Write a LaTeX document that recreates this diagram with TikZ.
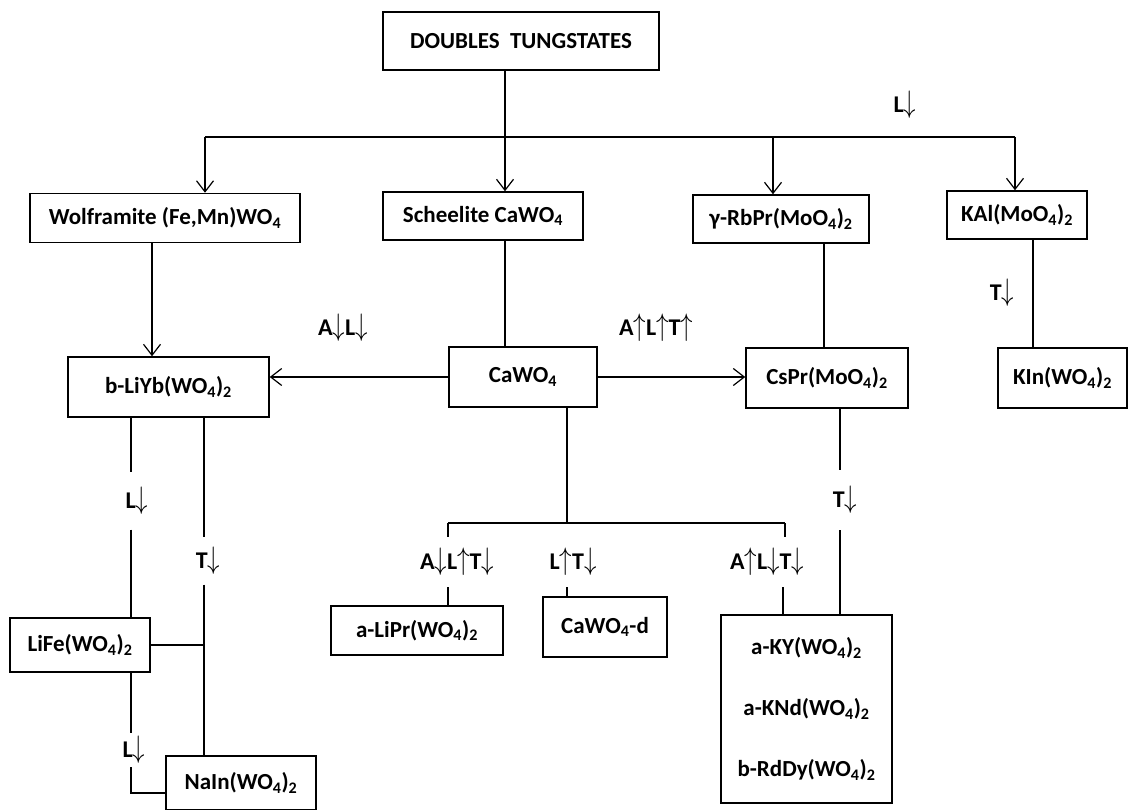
\documentclass[tikz,border=0pt]{standalone}
\usepackage{fontspec}
\setmainfont{Carlito}
\usetikzlibrary{arrows.meta}
\newcommand\sbs[1]{\textsubscript{#1}}
\newcommand\arrdn{\raisebox{-0.5pt}{\scalebox{1}[1.25]{$\downarrow$}}}
\newcommand\arrup{\raisebox{-0.5pt}{\scalebox{1}[1.25]{$\uparrow$}}}
\begin{document}
\begin{tikzpicture}[x=1pt,y=-1pt,
  box/.style={draw, line width=1.5pt, rectangle, inner sep=0pt, font=\fontsize{23}{27}\selectfont\bfseries},
  lbl/.style={inner sep=0pt, font=\fontsize{24}{28}\selectfont\bfseries},
  ln/.style={line width=1.2pt},
  arr/.style={ln, -{Straight Barb[length=11pt,width=17pt,line width=1.2pt]}}]
\useasboundingbox (0,0) rectangle (1130,810);
\fill[white] (0,0) rectangle (1130,810);

% boxes
\node[box, minimum width=276pt, minimum height=58pt] (top) at (521,41) {DOUBLES\ \ TUNGSTATES};
\node[box, minimum width=270pt, minimum height=49pt] (wolf) at (165,218) {Wolframite (Fe,Mn)WO\sbs{4}};
\node[box, minimum width=200pt, minimum height=48pt] (scheel) at (483,216) {Scheelite CaWO\sbs{4}};
\node[box, minimum width=176pt, minimum height=48pt] (rbpr) at (781,219) {γ-RbPr(MoO\sbs{4})\sbs{2}};
\node[box, minimum width=140pt, minimum height=48pt] (kal) at (1017,215) {KAl(MoO\sbs{4})\sbs{2}};
\node[box, minimum width=148pt, minimum height=60pt] (cawo) at (523,377) {CaWO\sbs{4}};
\node[box, minimum width=162pt, minimum height=60pt] (cspr) at (827,378) {CsPr(MoO\sbs{4})\sbs{2}};
\node[box, minimum width=129pt, minimum height=60pt] (kin) at (1062.5,378) {KIn(WO\sbs{4})\sbs{2}};
\node[box, minimum width=201pt, minimum height=60pt] (liyb) at (168.5,387) {b-LiYb(WO\sbs{4})\sbs{2}};
\node[box, minimum width=140pt, minimum height=54pt] (life) at (80,645) {LiFe(WO\sbs{4})\sbs{2}};
\node[box, minimum width=150pt, minimum height=54pt] (nain) at (241,783) {NaIn(WO\sbs{4})\sbs{2}};
\node[box, minimum width=172pt, minimum height=49pt] (lipr) at (417,630.5) {a-LiPr(WO\sbs{4})\sbs{2}};
\node[box, minimum width=124pt, minimum height=60pt] (cawod) at (605,627) {CaWO\sbs{4}-d};
\node[box, minimum width=171pt, minimum height=188pt, align=center, font=\fontsize{23}{61}\selectfont\bfseries] (big) at (806.5,709)
  {a-KY(WO\sbs{4})\sbs{2}\\a-KNd(WO\sbs{4})\sbs{2}\\b-RdDy(WO\sbs{4})\sbs{2}};

% labels
\node[lbl] (lL) at (905,105) {L\arrdn};
\node[lbl] (lAL) at (343,328) {A\arrdn L\arrdn};
\node[lbl] (lALT) at (656,328) {A\arrup L\arrup T\arrup};
\node[lbl] (lTk) at (1002,293) {T\arrdn};
\node[lbl, minimum height=60pt] (lTc) at (845,500) {T\arrdn};
\node[lbl, minimum height=57pt] (lL1) at (137,501) {L\arrdn};
\node[lbl, minimum height=47pt] (lT1) at (208,561) {T\arrdn};
\node[lbl, minimum height=34pt] (lL2) at (134,750) {L\arrdn};
\node[lbl, minimum height=50pt] (lA1) at (457,562) {A\arrdn L\arrup T\arrdn};
\node[lbl, minimum height=50pt] (lA2) at (573,562) {L\arrup T\arrdn};
\node[lbl, minimum height=50pt] (lA3) at (767,562) {A\arrup L\arrdn T\arrdn};

% coordinates for connector positions
\coordinate (tx) at (505,0);
\coordinate (bL) at (205,137);
\coordinate (b3) at (773,137);
\coordinate (bR) at (1015,137);
\coordinate (wx) at (152,0);
\coordinate (cx) at (824,0);
\coordinate (kx) at (1033,0);
\coordinate (px) at (840,0);
\coordinate (l1x) at (131,0);
\coordinate (r1x) at (204,0);
\coordinate (mx) at (567,0);
\coordinate (sbL) at (448,523);
\coordinate (sbM) at (567,523);
\coordinate (sbR) at (785,523);

% top tree
\draw[ln] (bL) -- (bR);
\draw[arr] (top.south -| tx) -- (scheel.north -| tx);
\draw[arr] (bL) -- (bL |- wolf.north);
\draw[arr] (b3) -- (b3 |- rbpr.north);
\draw[arr] (bR) -- (bR |- kal.north);

% middle
\draw[ln] (scheel.south -| tx) -- (cawo.north -| tx);
\draw[arr] (wolf.south -| wx) -- (liyb.north -| wx);
\draw[arr] (cawo.east) -- (cawo.east -| cspr.west);
\draw[arr] (cawo.west) -- (cawo.west -| liyb.east);
\draw[ln] (rbpr.south -| cx) -- (cspr.north -| cx);
\draw[ln] (kal.south -| kx) -- (kin.north -| kx);
\draw[ln] (cspr.south -| px) -- (lTc.north -| px);
\draw[ln] (lTc.south -| px) -- (big.north -| px);

% left branch
\draw[ln] (liyb.south -| l1x) -- (lL1.north -| l1x);
\draw[ln] (lL1.south -| l1x) -- (life.north -| l1x);
\draw[ln] (liyb.south -| r1x) -- (lT1.north -| r1x);
\draw[ln] (lT1.south -| r1x) -- (nain.north -| r1x);
\draw[ln] (life.east) -- (life.east -| r1x);
\draw[ln] (life.south -| l1x) -- (lL2.north -| l1x);
\draw[ln] (lL2.south -| l1x) |- ([yshift=-10pt]nain.west);

% bottom of CaWO4
\draw[ln] (cawo.south -| mx) -- (sbM);
\draw[ln] (sbL) -- (sbR);
\draw[ln] (sbL) -- (sbL |- lA1.north);
\draw[ln] (sbR) -- (sbR |- lA3.north);
\draw[ln] (lA1.south -| sbL) -- (lipr.north -| sbL);
\draw[ln] (lA2.south -| mx) -- (cawod.north -| mx);
\draw[ln] ([xshift=-2pt]lA3.south -| sbR) -- ([xshift=-2pt]big.north -| sbR);
\end{tikzpicture}
\end{document}
